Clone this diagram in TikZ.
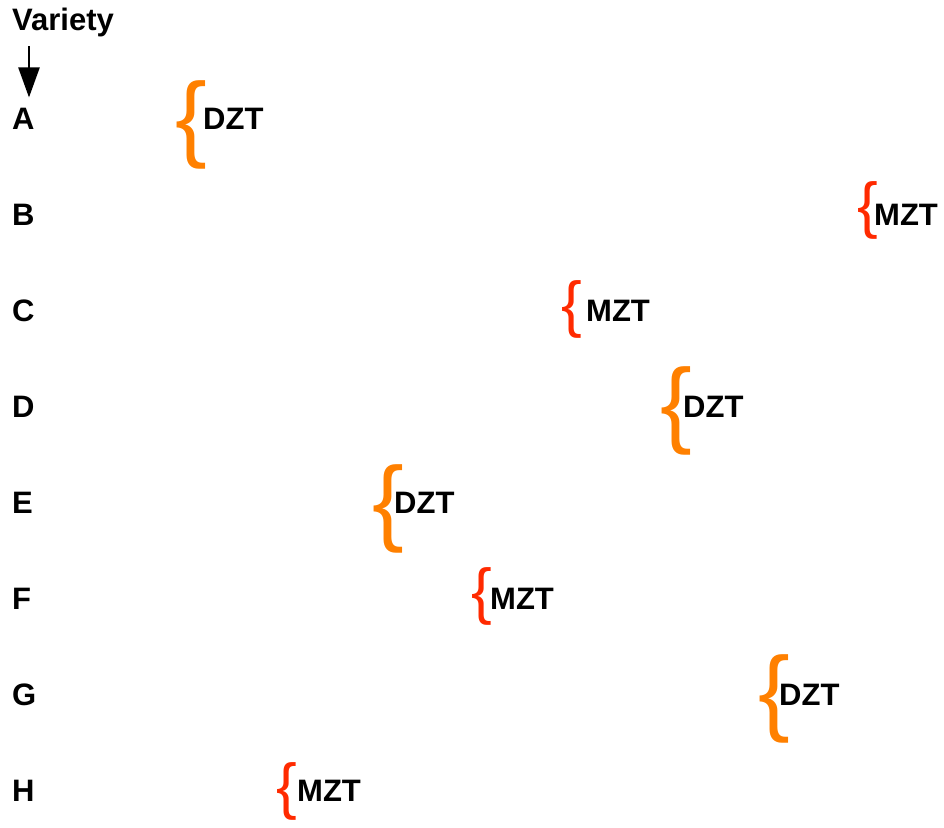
\documentclass[tikz,border=0pt]{standalone}
\usepackage{fontspec}
\setmainfont{Liberation Sans}
\usepackage{xcolor}
\definecolor{ztorange}{HTML}{FF8000}
\definecolor{ztred}{HTML}{FF2A00}
\usetikzlibrary{arrows.meta, positioning}

\begin{document}
\begin{tikzpicture}[
        x=1pt, y=-1pt,
        variety/.style={anchor=base west, inner sep=0pt,
                        font=\fontsize{31}{31}\selectfont\bfseries},
        zone/.style={anchor=base west, inner sep=0pt,
                     font=\fontsize{31}{31}\selectfont\bfseries},
        dztbrace/.style={anchor=center, inner sep=0pt, ztorange,
                         font=\fontsize{95}{95}\selectfont},
        mztbrace/.style={anchor=center, inner sep=0pt, ztred,
                         font=\fontsize{62}{62}\selectfont},
        varrow/.style={line width=2.4pt, -{Triangle[length=30pt, width=21pt]}}
      ]
        \useasboundingbox (0,0) rectangle (944,827);
        % Heading and arrow
        \node[variety] (head) at (12, 30) {Variety};
        \coordinate (arrtop) at (29, 46);
        % Variety letters (x=12)
        \node[variety] (lA) at (12, 129) {A};
        \node[variety] (lB) at (12, 225) {B};
        \node[variety] (lC) at (12, 321) {C};
        \node[variety] (lD) at (12, 417) {D};
        \node[variety] (lE) at (12, 513) {E};
        \node[variety] (lF) at (12, 609) {F};
        \node[variety] (lG) at (12, 705) {G};
        \node[variety] (lH) at (12, 801) {H};
        \draw[varrow, shorten >=10pt] (arrtop) -- (arrtop |- lA.north);
        % DZT braces
        \node[dztbrace] (bA) at (191, 124.5) {\{};
        \node[dztbrace] (bD) at (676, 410.5) {\{};
        \node[dztbrace] (bE) at (388.5, 508.5) {\{};
        \node[dztbrace] (bG) at (774, 699) {\{};
        % MZT braces
        \node[mztbrace] (bB) at (867.5, 210) {\{};
        \node[mztbrace] (bC) at (572, 309) {\{};
        \node[mztbrace] (bF) at (481.5, 596) {\{};
        \node[mztbrace] (bH) at (287, 791.5) {\{};
        % Zone labels
        \node[zone] (zA) at (203, 129) {DZT};
        \node[zone] (zB) at (874, 225) {MZT};
        \node[zone] (zC) at (586, 321) {MZT};
        \node[zone] (zD) at (683, 417) {DZT};
        \node[zone] (zE) at (394, 513) {DZT};
        \node[zone] (zF) at (490, 609) {MZT};
        \node[zone] (zG) at (779, 705) {DZT};
        \node[zone] (zH) at (297, 801) {MZT};
      \end{tikzpicture}
\end{document}
